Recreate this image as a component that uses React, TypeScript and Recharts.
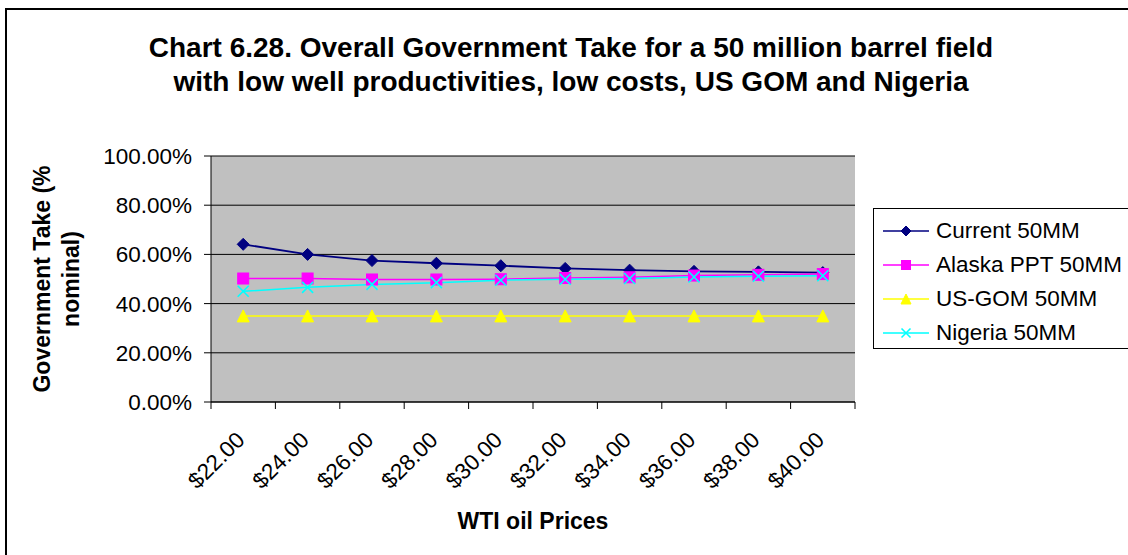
import React from "react";
import { LineChart, Line, XAxis, YAxis, CartesianGrid, Legend } from "recharts";

const prices = ["$22.00", "$24.00", "$26.00", "$28.00", "$30.00", "$32.00", "$34.00", "$36.00", "$38.00", "$40.00"];
const current50 = [64.1, 60.0, 57.5, 56.4, 55.4, 54.3, 53.6, 53.1, 52.9, 52.6];
const alaskaPpt50 = [50.2, 50.2, 49.8, 49.8, 49.9, 50.4, 50.7, 51.4, 51.7, 52.0];
const usGom50 = [35, 35, 35, 35, 35, 35, 35, 35, 35, 35];
const nigeria50 = [45.0, 46.6, 47.8, 48.5, 49.5, 49.9, 50.2, 50.8, 51.1, 51.3];
const yTicks = [0, 20, 40, 60, 80, 100];

const data = prices.map((price, i) => ({
  price,
  current: current50[i],
  alaska: alaskaPpt50[i],
  gom: usGom50[i],
  nigeria: nigeria50[i],
}));

const FONT = "'Liberation Sans', Arial, sans-serif";
const W = 1128;
const H = 555;
const PLOT_LEFT = 211;
const PLOT_RIGHT = 855;
const PLOT_TOP = 156;
const PLOT_BOTTOM = 402;
const HALF = (PLOT_RIGHT - PLOT_LEFT) / prices.length / 2;

type Shape = "diamond" | "square" | "triangle" | "cross";

function Marker({ shape, cx, cy, color, r = 6 }: { shape: Shape; cx: number; cy: number; color: string; r?: number }) {
  if (shape === "diamond") {
    return <polygon points={`${cx},${cy - r} ${cx + r},${cy} ${cx},${cy + r} ${cx - r},${cy}`} fill={color} stroke={color} />;
  }
  if (shape === "square") {
    const s = r - 0.5;
    return <rect x={cx - s} y={cy - s} width={s * 2} height={s * 2} fill={color} stroke={color} />;
  }
  if (shape === "triangle") {
    return <polygon points={`${cx},${cy - r} ${cx + r},${cy + r} ${cx - r},${cy + r}`} fill={color} stroke={color} />;
  }
  const s = r - 0.5;
  return (
    <g stroke={color} strokeWidth={1.6}>
      <line x1={cx - s} y1={cy - s} x2={cx + s} y2={cy + s} />
      <line x1={cx - s} y1={cy + s} x2={cx + s} y2={cy - s} />
    </g>
  );
}

const series: { key: string; name: string; color: string; shape: Shape; width: number }[] = [
  { key: "current", name: "Current 50MM", color: "#000080", shape: "diamond", width: 1.8 },
  { key: "alaska", name: "Alaska PPT 50MM", color: "#FF00FF", shape: "square", width: 1.5 },
  { key: "gom", name: "US-GOM 50MM", color: "#FFFF00", shape: "triangle", width: 1.5 },
  { key: "nigeria", name: "Nigeria 50MM", color: "#00FFFF", shape: "cross", width: 1.5 },
];

function dotFor(shape: Shape, color: string) {
  return (props: any) => {
    const { cx, cy, index } = props;
    if (cx == null || cy == null) return <g key={index} />;
    return (
      <g key={`${shape}-${index}`}>
        <Marker shape={shape} cx={cx} cy={cy} color={color} />
      </g>
    );
  };
}

function PriceTick(props: any) {
  const { payload, index, x } = props;
  const cx = payload?.coordinate ?? x;
  const last = index === prices.length - 1;
  return (
    <g>
      <line x1={cx - HALF} x2={cx - HALF} y1={PLOT_BOTTOM} y2={PLOT_BOTTOM + 7} stroke="#000" />
      {last && <line x1={cx + HALF} x2={cx + HALF} y1={PLOT_BOTTOM} y2={PLOT_BOTTOM + 7} stroke="#000" />}
      <text
        transform={`translate(${cx - 8.5},${430}) rotate(-45)`}
        textAnchor="end"
        dy="0.71em"
        fontSize={22.5}
        fontFamily={FONT}
        fill="#000"
      >
        {payload.value}
      </text>
    </g>
  );
}

function YTitle() {
  return (
    <text
      transform="translate(50,279) rotate(-90)"
      textAnchor="middle"
      fontSize={23}
      fontWeight="bold"
      fontFamily={FONT}
      fill="#000"
    >
      <tspan x={0} y={0}>Government Take (%</tspan>
      <tspan x={0} y={29}>nominal)</tspan>
    </text>
  );
}

function LegendBox() {
  return (
    <div
      style={{
        boxSizing: "border-box",
        width: 270,
        height: 141,
        border: "1px solid #000",
        background: "#fff",
        paddingTop: 5,
        fontFamily: FONT,
        fontSize: 22.5,
        color: "#000",
      }}
    >
      {series.map((s) => (
        <div key={s.key} style={{ display: "flex", alignItems: "center", height: 34 }}>
          <svg width={62} height={20} style={{ flex: "none" }}>
            <line x1={9} x2={55} y1={10} y2={10} stroke={s.color} strokeWidth={1.5} />
            <Marker shape={s.shape} cx={32} cy={10} color={s.color} r={5} />
          </svg>
          <span style={{ whiteSpace: "nowrap", lineHeight: "34px" }}>{s.name}</span>
        </div>
      ))}
    </div>
  );
}

export default function App() {
  return (
    <div style={{ position: "absolute", left: 0, top: 0, width: W, height: H, overflow: "hidden", background: "#fff" }}>
      <div
        style={{
          position: "absolute",
          left: 5,
          top: 8,
          width: W + 20,
          height: H + 20,
          border: "2px solid #000",
        }}
      />
      <div
        style={{
          position: "absolute",
          left: 14,
          width: 1114,
          top: 31,
          textAlign: "center",
          fontFamily: FONT,
          fontWeight: "bold",
          fontSize: 28,
          lineHeight: "34px",
          color: "#000",
        }}
      >
        Chart 6.28. Overall Government Take for a 50 million barrel field
        <br />
        with low well productivities, low costs, US GOM and Nigeria
      </div>
      <div
        style={{
          position: "absolute",
          left: 333,
          width: 400,
          top: 510,
          textAlign: "center",
          fontFamily: FONT,
          fontWeight: "bold",
          fontSize: 23,
          lineHeight: "23px",
          color: "#000",
        }}
      >
        WTI oil Prices
      </div>
      <div style={{ position: "absolute", left: 0, top: 0 }}>
        <LineChart
          width={W}
          height={H}
          data={data}
          margin={{ top: PLOT_TOP, right: W - PLOT_RIGHT, bottom: 0, left: 0 }}
        >
          <CartesianGrid vertical={false} stroke="#000" fill="#C0C0C0" fillOpacity={1} />
          <XAxis
            dataKey="price"
            height={H - PLOT_BOTTOM}
            padding={{ left: HALF, right: HALF }}
            interval={0}
            tickLine={false}
            axisLine={{ stroke: "#000" }}
            tick={<PriceTick />}
          />
          <YAxis
            width={PLOT_LEFT}
            domain={[0, 100]}
            ticks={yTicks}
            interval={0}
            tickSize={7}
            tickMargin={12}
            tickLine={{ stroke: "#000" }}
            axisLine={{ stroke: "#000" }}
            tick={{ fill: "#000", fontSize: 22.5, fontFamily: FONT }}
            tickFormatter={(v: number) => `${v.toFixed(2)}%`}
            label={<YTitle />}
          />
          <YAxis
            yAxisId="frame"
            orientation="right"
            width={0}
            domain={[0, 100]}
            tick={false}
            tickLine={false}
            axisLine={{ stroke: "#808080" }}
          />
          <Legend
            layout="vertical"
            align="center"
            verticalAlign="middle"
            wrapperStyle={{ position: "absolute", left: 873, top: 208, width: 270, height: 141 }}
            content={() => <LegendBox />}
          />
          {series.map((s) => (
            <Line
              key={s.key}
              type="linear"
              dataKey={s.key}
              name={s.name}
              stroke={s.color}
              strokeWidth={s.width}
              dot={dotFor(s.shape, s.color)}
              activeDot={false}
              isAnimationActive={false}
            />
          ))}
        </LineChart>
      </div>
    </div>
  );
}
